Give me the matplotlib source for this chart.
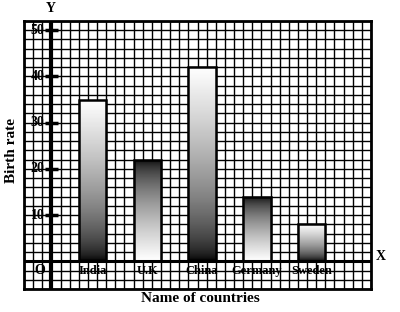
import matplotlib.pyplot as plt
import numpy as np
from matplotlib.patches import Rectangle

# ---------------------------------------------------------
# DATA
# ---------------------------------------------------------
countries = ["India", "U.K", "China", "Germany", "Sweden"]
birth_rate = [35, 22, 42, 14, 8]
y_ticks = [10, 20, 30, 40, 50]

# shading of each bar: True = dark at bottom, False = dark at top
dark_bottom = [True, False, True, False, True]

serif = ["Liberation Serif", "DejaVu Serif"]

fig = plt.figure(figsize=(4.0, 3.12), dpi=100)
ax = fig.add_axes([24 / 400, 1 - 289 / 312, 347 / 400, 268 / 312])

# graph-paper grid
for gx in range(-3, 36):
    ax.axvline(gx, color="black", lw=1.0, zorder=1)
for gy in range(-6, 53, 2):
    ax.axhline(gy, color="black", lw=1.0, zorder=1)

# bars, placed every 6 squares, 3 squares wide
bar_x = [3 + 6 * i for i in range(len(countries))]
bar_w = 3
for i, (bx, v) in enumerate(zip(bar_x, birth_rate)):
    g = np.linspace(0, 1, 100).reshape(-1, 1)  # 0 at bottom, 1 at top
    if dark_bottom[i]:
        shade = g ** 0.6
    else:
        shade = (1 - g) ** 0.6
    img = ax.imshow(shade, cmap="gray", vmin=0, vmax=1, origin="lower",
                    extent=[bx, bx + bar_w, 0, v], aspect="auto", zorder=2,
                    interpolation="bilinear")
    rect = Rectangle((bx, 0), bar_w, v, facecolor="none",
                     edgecolor="black", lw=1.8, zorder=3)
    ax.add_patch(rect)
    img.set_clip_path(rect)
    ax.text(bx + bar_w / 2, -2, countries[i], ha="center", va="center",
            fontsize=9, fontweight="bold", family=serif, zorder=5)

ax.set_xlim(-3, 35)
ax.set_ylim(-6, 52)

# heavy axes
ax.axvline(0, color="black", lw=3.0, zorder=4)
ax.axhline(0, color="black", lw=2.2, zorder=4)

# y ticks and labels
for t in y_ticks:
    ax.plot([-0.7, 0.7], [t, t], color="black", lw=2.5, zorder=4,
            solid_capstyle="butt")
    ax.text(-0.75, t, str(t), ha="right", va="center", fontsize=10,
            fontweight="bold", family=serif, zorder=5)

ax.text(-1.3, -2, "O", ha="center", va="center", fontsize=10,
        fontweight="bold", family=serif, zorder=5)

ax.set_xticks([])
ax.set_yticks([])
for s in ax.spines.values():
    s.set_linewidth(2.0)

fig.text(51 / 400, 1 - 9 / 312, "Y", ha="center", va="center", fontsize=10,
         fontweight="bold", family=serif)
fig.text(381 / 400, 1 - 257 / 312, "X", ha="center", va="center", fontsize=10,
         fontweight="bold", family=serif)
fig.text(12 / 400, 1 - 150 / 312, "Birth rate", ha="center", va="center",
         rotation=90, fontsize=11, fontweight="bold", family=serif)
fig.text(200 / 400, 1 - 299 / 312, "Name of countries", ha="center",
         va="center", fontsize=11, fontweight="bold", family=serif)

fig.savefig("out.png", dpi=100)
plt.close(fig)
